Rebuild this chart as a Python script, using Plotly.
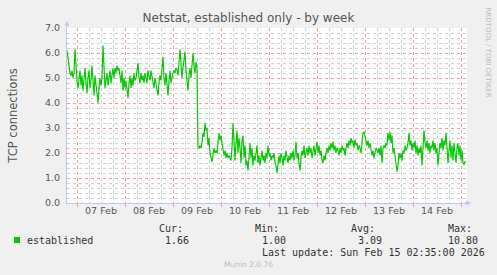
import pandas as pd
import plotly.graph_objects as go

# ---------------- data ----------------
title_text = "Netstat, established only - by week"
y_title = "TCP connections"
series_name = "established"
start_time = "2026-02-06 19:00"
step = "30min"
established = [
    6.1, 5.8, 5.45, 5.2, 5.1, 5.3, 5.0, 5.2, 6.15, 5.4, 4.9, 4.6, 5.0, 5.3, 4.7, 5.1, 4.5, 4.9, 5.4, 4.8,
    4.4, 5.0, 5.3, 4.6, 4.9, 5.5, 4.7, 4.3, 5.1, 4.8, 4.5, 4.0, 4.6, 5.0, 4.7, 5.0, 6.3, 5.3, 4.6, 4.9,
    5.2, 4.7, 5.0, 5.3, 4.8, 5.2, 5.4, 5.0, 5.4, 5.2, 5.5, 5.3, 5.4, 5.1, 4.8, 5.3, 4.5, 5.0, 4.6, 4.9,
    4.4, 4.2, 4.8, 5.1, 4.6, 5.0, 4.7, 5.2, 4.9, 5.0, 5.3, 5.6, 5.0, 4.8, 5.2, 4.9, 5.1, 4.8, 5.2, 5.0,
    4.8, 5.3, 5.1, 4.9, 5.3, 5.0, 4.8, 4.6, 5.0, 4.7, 4.5, 4.3, 4.8, 5.1, 4.9, 5.4, 5.85, 5.0, 4.7, 5.2,
    4.6, 4.3, 4.9, 5.3, 4.8, 5.1, 5.2, 5.3, 5.2, 5.4, 5.3, 5.1, 5.5, 6.15, 5.6, 5.0, 5.4, 5.7, 6.05, 5.3,
    4.9, 4.5, 5.1, 5.4, 5.0, 5.6, 6.0, 5.5, 5.2, 5.65, 5.4, 2.25, 2.2, 2.3, 2.2, 2.4, 2.8, 2.65, 3.2, 2.9,
    3.0, 2.3, 2.6, 2.0, 1.8, 1.65, 1.9, 2.2, 2.0, 2.1, 2.0, 2.6, 2.8, 2.5, 2.7, 2.4, 2.2, 1.9, 2.1, 1.8,
    2.0, 1.8, 1.9, 1.8, 1.7, 2.2, 3.2, 2.5, 1.7, 2.4, 2.9, 2.0, 2.6, 2.2, 1.6, 2.5, 2.7, 1.8, 2.3, 1.5,
    1.7, 1.3, 1.9, 2.4, 1.8, 2.2, 1.5, 1.9, 1.7, 2.0, 2.3, 1.6, 1.9, 1.5, 1.8, 2.1, 1.7, 1.9, 1.6, 2.0,
    1.8, 2.3, 1.9, 2.0, 1.7, 1.9, 1.8, 2.0, 1.6, 1.5, 1.2, 1.7, 1.9, 1.6, 2.0, 1.8, 1.5, 1.9, 1.7, 2.1,
    1.8, 1.6, 1.9, 1.7, 2.0, 1.8, 2.1, 1.7, 1.9, 2.45, 1.8, 2.0, 1.6, 1.3, 1.8, 2.1, 1.9, 2.3, 1.8, 2.0,
    2.2, 1.9, 2.3, 2.0, 2.2, 1.8, 2.1, 2.3, 1.9, 2.2, 2.45, 2.0, 2.3, 1.9, 2.1, 1.7, 1.6, 1.9, 1.7, 2.0,
    2.2, 2.0, 2.3, 2.1, 2.4, 2.2, 2.45, 2.1, 2.3, 2.0, 2.2, 2.1, 1.9, 2.2, 2.0, 2.3, 2.1, 2.2, 1.9, 2.2,
    2.4, 2.2, 2.5, 2.3, 2.6, 2.4, 2.5, 2.2, 2.55, 2.3, 2.4, 2.1, 2.3, 2.2, 2.0, 2.4, 2.8, 2.85, 2.7, 2.5,
    2.3, 2.5, 2.2, 2.4, 2.0, 1.9, 2.1, 1.8, 2.0, 2.2, 2.1, 2.0, 2.2, 1.9, 2.3, 1.6, 2.2, 2.3, 2.2, 2.4,
    2.3, 2.8, 2.5, 2.85, 2.4, 2.7, 2.0, 2.2, 1.9, 1.6, 1.25, 1.5, 2.0, 1.8, 2.0, 1.7, 2.1, 2.0, 2.3, 2.1,
    2.2, 2.4, 2.8, 2.3, 2.5, 2.1, 2.4, 2.2, 2.5, 2.0, 2.3, 1.9, 2.2, 2.0, 2.3, 1.5, 2.1, 2.9, 2.4, 2.2,
    2.5, 2.1, 2.4, 2.0, 2.3, 2.2, 2.5, 2.1, 2.4, 2.0, 2.2, 1.5, 2.0, 2.4, 2.2, 2.6, 2.1, 2.5, 2.3, 2.8,
    2.2, 1.6, 2.1, 2.5, 1.8, 2.3, 1.7, 2.4, 2.0, 1.6, 2.2, 2.4, 1.9, 2.3, 1.7, 2.1, 1.6, 1.55, 1.65, 1.66,
]
x_tick_days = ["2026-02-07", "2026-02-08", "2026-02-09", "2026-02-10",
               "2026-02-11", "2026-02-12", "2026-02-13", "2026-02-14"]
x_tick_labels = ["07 Feb", "08 Feb", "09 Feb", "10 Feb", "11 Feb", "12 Feb", "13 Feb", "14 Feb"]
x_range = ["2026-02-06 19:00", "2026-02-15 03:00"]
y_range = [0, 7]
stat_labels = ["Cur:", "Min:", "Avg:", "Max:"]
stat_values = ["1.66", "1.00", "3.09", "10.80"]
last_update = "Last update: Sun Feb 15 02:35:00 2026"
footer = "Munin 2.0.76"
side_note = "RRDTOOL / TOBI OETIKER"

# ---------------- styling ----------------
W, H = 497, 275
L, R, T, B = 67, 30, 28, 72
PW, PH = W - L - R, H - T - B
line_col = "#00CC00"
major_col = "#E9A3A3"
minor_col = "#D2D2D2"
axis_col = "#C4C4F4"
txt_col = "#555555"
mono = "DejaVu Sans Mono"
sans = "DejaVu Sans"

times = pd.date_range(start_time, periods=len(established), freq=step)
tick_noons = [pd.Timestamp(d) + pd.Timedelta(hours=12) for d in x_tick_days]


def px(x):
    return (x - L) / PW


def py(y):
    return (T + PH - y) / PH


fig = go.Figure()
fig.add_trace(go.Scatter(x=times, y=established, mode="lines",
                         line=dict(color=line_col, width=1.2),
                         showlegend=False, hoverinfo="skip"))
fig.add_trace(go.Scatter(x=[times[0]], y=[None], xaxis="x2", mode="lines",
                         showlegend=False, hoverinfo="skip"))

fig.update_layout(
    width=W, height=H,
    margin=dict(l=L, r=R, t=T, b=B, pad=0),
    paper_bgcolor="#F0F0F0", plot_bgcolor="#FFFFFF",
    font=dict(family=sans, size=10, color=txt_col),
    title=dict(text=title_text, x=0.5, xanchor="center", y=1 - 18 / H, yanchor="middle",
               font=dict(family=sans, size=12, color="#555555")),
    xaxis=dict(type="date", range=x_range, dtick=86400000, tick0="2026-02-07",
               showgrid=True, gridcolor=major_col, griddash="dot", gridwidth=1,
               showticklabels=False, ticks="outside", ticklen=3, tickcolor=major_col,
               showline=True, linecolor=axis_col, linewidth=1, zeroline=False,
               minor=dict(dtick=6 * 3600000, tick0="2026-02-07", showgrid=True,
                          gridcolor=minor_col, griddash="dot", gridwidth=1)),
    xaxis2=dict(type="date", range=x_range, overlaying="x", side="bottom",
                tickvals=tick_noons, ticktext=x_tick_labels, showgrid=False,
                ticks="", showline=False, zeroline=False,
                tickfont=dict(family=sans, size=9.5, color=txt_col)),
    yaxis=dict(range=y_range, dtick=1, tick0=0, tickformat=".1f",
               showgrid=True, gridcolor=major_col, griddash="dot", gridwidth=1,
               ticks="", showline=True, linecolor=axis_col, linewidth=1, zeroline=False,
               ticklabelstandoff=4,
               tickfont=dict(family=sans, size=9.5, color=txt_col),
               title=dict(text=y_title, standoff=24, font=dict(family=sans, size=11.5, color=txt_col)),
               minor=dict(dtick=0.2, showgrid=True, gridcolor=minor_col, griddash="dot", gridwidth=1)),
)

ann = []
# axis arrows
ann.append(dict(x=0, y=py(21), xref="paper", yref="paper", ax=0, ay=8, text="",
                showarrow=True, arrowhead=2, arrowsize=1, arrowwidth=1, arrowcolor=axis_col))
ann.append(dict(x=px(471), y=0, xref="paper", yref="paper", ax=-8, ay=0, text="",
                showarrow=True, arrowhead=2, arrowsize=1, arrowwidth=1, arrowcolor=axis_col))
# side note
ann.append(dict(x=px(487.5), y=py(52), xref="paper", yref="paper", text=side_note, textangle=90,
                showarrow=False, font=dict(family=sans, size=7, color="#BBBBBB"),
                xanchor="center", yanchor="middle"))
# legend
leg = dict(xref="paper", yref="paper", showarrow=False, xanchor="left", yanchor="middle",
           borderpad=0, font=dict(family=mono, size=10, color="#333333"))
ann.append(dict(x=px(26), y=py(240), text=series_name, **leg))
label_x = [158, 254, 350, 447]
value_x = [164, 261, 357, 447]
for lx, vx, lab, val in zip(label_x, value_x, stat_labels, stat_values):
    ann.append(dict(x=px(lx), y=py(228), text=lab, **leg))
    ann.append(dict(x=px(vx), y=py(240), text=val, **leg))
ann.append(dict(x=px(261), y=py(252), text=last_update, **leg))
ann.append(dict(x=px(248), y=py(264), xref="paper", yref="paper", text=footer, showarrow=False,
                xanchor="center", yanchor="middle", font=dict(family=sans, size=7.5, color="#BBBBBB")))
fig.update_layout(annotations=ann)

fig.add_shape(type="rect", xref="paper", yref="paper",
              x0=px(14), x1=px(20), y0=py(243), y1=py(237),
              fillcolor=line_col, line=dict(width=0))

fig.write_html("out.html")
